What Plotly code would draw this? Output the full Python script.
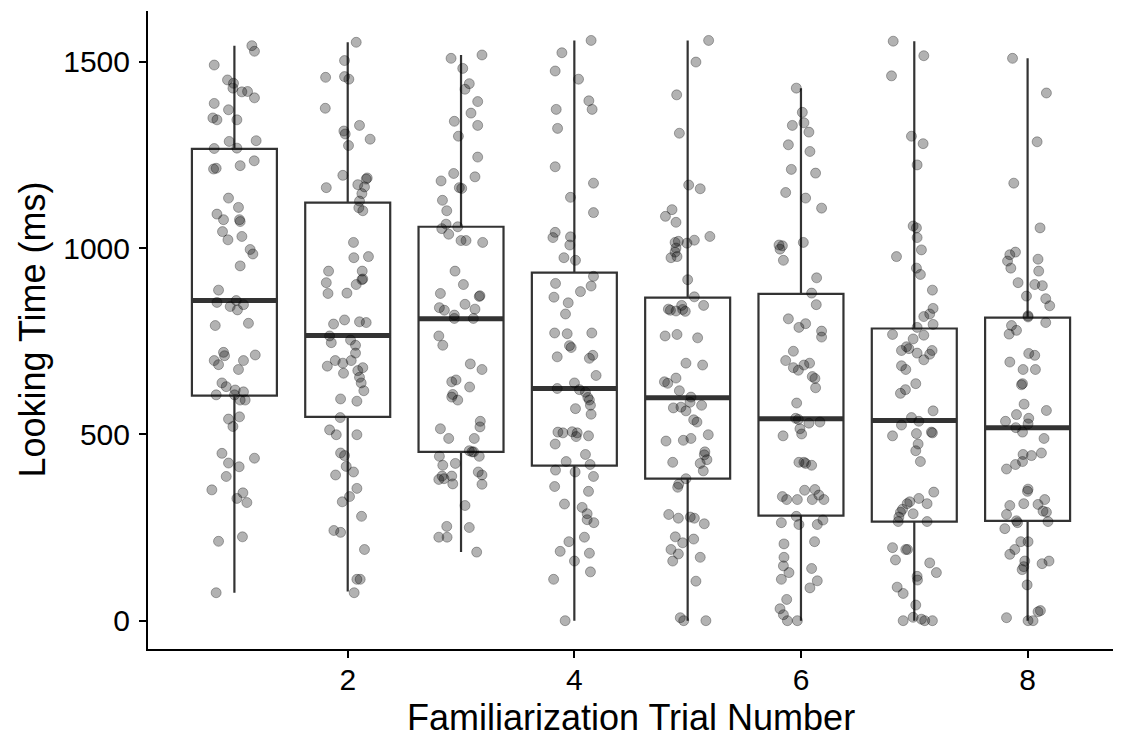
import plotly.graph_objects as go

# ---------------- data ----------------
trials = [1, 2, 3, 4, 5, 6, 7, 8]
q1 = [604, 547, 453, 416, 381, 282, 266, 268]
median = [859, 765, 810, 623, 598, 542, 537, 518]
q3 = [1266, 1122, 1057, 934, 867, 877, 784, 813]
lower_whisker = [75, 78, 184, 0, 0, 0, 0, 0]
upper_whisker = [1543, 1552, 1518, 1557, 1557, 1429, 1555, 1509]

x_ticks = [2, 4, 6, 8]
y_ticks = [0, 500, 1000, 1500]

# jitter offsets (horizontal) and looking times (ms) for each trial
t1_jit = [0.154,0.177,-0.178,-0.061,-0.008,-0.013,0.066,0.116,0.177,-0.178,-0.052,-0.190,-0.154,0.022,-0.046,0.192,-0.178,0.022,-0.184,-0.161,0.051,0.175,-0.052,0.036,-0.154,-0.096,0.045,0.051,-0.105,-0.057,0.066,0.139,0.163,0.051,-0.140,-0.154,-0.037,0.016,0.080,0.027,-0.169,0.124,-0.096,-0.087,-0.178,-0.140,0.080,0.184,0.036,-0.110,-0.072,0.007,0.080,-0.161,0.001,0.051,0.095,-0.052,0.045,-0.013,-0.110,-0.052,0.042,0.177,-0.072,-0.199,0.075,0.022,0.110,-0.140,0.071,-0.161]
t1_ms = [1543,1528,1491,1451,1442,1429,1419,1420,1403,1388,1371,1349,1344,1344,1286,1288,1267,1268,1212,1214,1221,1234,1134,1109,1091,1076,1076,1071,1044,1022,1031,996,984,952,887,854,843,859,848,834,792,798,720,711,698,687,698,713,674,638,628,619,614,606,606,592,592,541,547,521,449,423,413,436,387,351,343,328,317,213,225,75]

t2_jit = [0.075,-0.028,-0.195,-0.028,0.010,-0.198,0.104,-0.034,-0.022,0.198,0.007,-0.043,-0.189,0.172,0.163,0.089,0.148,0.125,0.104,0.098,0.133,0.051,0.054,0.183,-0.169,0.128,-0.189,-0.174,-0.007,0.075,0.125,0.133,-0.125,-0.028,0.104,0.163,-0.160,-0.145,0.025,0.069,0.069,0.031,-0.110,-0.180,-0.043,-0.037,0.089,0.133,0.104,0.119,0.142,-0.063,0.081,-0.066,-0.160,-0.101,0.081,-0.063,-0.028,-0.013,0.051,-0.107,0.081,0.016,-0.048,0.122,-0.122,-0.063,0.148,0.081,0.110,0.057]
t2_ms = [1552,1503,1458,1460,1453,1375,1329,1314,1306,1292,1275,1195,1162,1188,1185,1170,1164,1146,1126,1108,1100,1015,974,977,938,938,907,878,879,902,915,917,796,807,802,800,764,746,753,739,718,698,698,683,691,664,671,679,653,638,617,595,589,545,512,499,499,450,443,414,399,391,355,333,319,280,242,237,191,111,111,75]

t3_jit = [-0.088,0.185,0.015,0.073,0.035,0.147,0.088,0.147,-0.059,-0.023,0.147,-0.065,0.123,-0.176,-0.015,0.006,-0.164,-0.126,-0.132,-0.170,-0.109,-0.029,0.000,0.044,0.191,-0.053,0.021,-0.182,0.167,0.161,-0.191,-0.147,0.035,0.123,-0.059,-0.059,0.109,-0.196,-0.161,0.082,0.185,-0.082,-0.044,0.076,-0.073,-0.082,-0.029,-0.182,-0.109,0.117,0.170,0.167,0.073,0.097,0.111,-0.191,0.161,-0.161,-0.050,0.152,-0.196,-0.082,-0.167,-0.150,-0.073,0.185,0.185,0.035,-0.126,0.073,-0.196,-0.123,0.138]
t3_ms = [1509,1518,1482,1441,1426,1393,1362,1329,1340,1300,1244,1200,1191,1180,1162,1160,1128,1100,1064,1052,1037,1057,1020,1020,1015,938,902,878,872,870,840,833,849,836,820,811,811,764,739,689,674,641,646,627,607,600,592,515,489,489,535,520,456,453,453,441,441,417,422,399,379,388,388,381,367,391,366,309,253,250,224,224,184]

t4_jit = [0.148,-0.110,-0.169,0.037,0.128,0.157,-0.160,-0.148,-0.169,0.169,-0.034,0.169,-0.169,-0.189,-0.034,-0.040,-0.092,0.010,0.169,0.148,0.054,-0.166,-0.180,-0.054,-0.078,-0.174,-0.063,0.154,-0.043,-0.028,-0.151,0.163,0.133,0.192,-0.151,0.001,0.045,0.098,0.119,0.133,0.142,0.010,0.148,-0.145,-0.101,-0.019,0.025,0.016,0.125,-0.169,0.098,-0.072,0.139,-0.166,0.007,0.169,-0.174,0.125,-0.087,0.069,0.113,0.113,0.172,0.089,-0.048,-0.125,0.133,0.001,0.142,-0.183,-0.081]
t4_ms = [1557,1524,1475,1453,1395,1372,1372,1321,1218,1174,1136,1095,1042,1028,1030,1008,974,967,924,898,883,905,868,853,823,772,770,772,738,733,708,712,704,658,623,638,620,613,599,592,578,569,554,506,504,507,504,494,496,474,446,427,419,404,399,387,360,347,313,304,287,271,263,224,212,186,181,160,131,111,0]

t5_jit = [0.185,0.073,-0.097,-0.073,0.009,0.111,-0.138,-0.196,-0.103,-0.111,-0.082,-0.006,0.059,0.196,-0.103,-0.111,-0.147,-0.094,0.000,0.059,-0.053,-0.170,-0.152,-0.103,-0.044,-0.021,0.141,-0.199,-0.094,0.088,-0.015,0.132,-0.205,-0.176,-0.103,-0.073,0.029,-0.126,-0.059,-0.015,0.021,0.123,0.053,0.082,-0.191,-0.038,0.029,0.182,-0.132,0.152,0.147,0.170,0.111,0.138,-0.015,-0.079,-0.088,-0.167,-0.082,0.023,0.059,0.147,-0.109,-0.044,0.053,-0.147,-0.082,-0.132,0.111,0.073,-0.065,-0.035,0.161]
t5_ms = [1557,1499,1411,1308,1169,1159,1103,1085,1069,1015,1018,1013,1021,1031,1000,989,974,977,915,869,846,836,833,831,835,830,846,764,768,759,691,686,641,637,651,617,600,571,573,563,586,578,539,533,482,484,489,499,425,453,445,432,422,402,381,366,358,285,275,278,275,260,225,209,219,191,179,160,170,106,8,0,0]

t6_jit = [-0.041,0.012,-0.076,0.026,0.070,-0.111,0.079,-0.085,0.129,-0.135,0.041,0.182,0.021,-0.194,-0.164,-0.185,-0.155,0.138,0.094,0.135,-0.111,-0.018,0.041,0.182,0.182,-0.067,-0.135,-0.067,-0.023,0.026,0.076,0.100,0.123,0.129,-0.038,-0.047,-0.023,0.070,0.167,-0.009,0.006,-0.158,-0.018,0.026,0.041,0.094,0.032,0.123,-0.164,-0.126,-0.032,0.100,0.158,0.202,-0.041,-0.018,-0.173,0.144,0.194,0.120,-0.150,-0.150,-0.155,-0.106,-0.173,0.094,0.144,0.079,-0.126,-0.185,-0.155,-0.120,-0.032]
t6_ms = [1429,1364,1329,1336,1311,1277,1259,1211,1201,1149,1134,1107,1015,1008,1006,997,967,920,879,848,810,787,797,777,761,723,698,679,672,686,691,655,650,625,584,543,540,530,533,515,501,496,425,425,422,417,350,352,333,325,325,325,337,325,280,258,263,258,270,212,206,170,147,129,111,140,107,88,57,32,16,0,0]

t7_jit = [-0.186,0.084,-0.201,-0.025,0.078,0.025,-0.010,0.019,0.025,0.063,-0.157,0.019,0.054,0.160,0.166,0.136,0.084,0.166,0.025,-0.192,0.084,-0.010,-0.069,-0.113,-0.048,0.025,0.157,0.136,0.084,-0.113,-0.075,0.013,-0.078,-0.122,0.166,-0.025,0.040,-0.113,-0.192,0.019,0.151,0.160,0.034,0.013,0.054,0.172,0.040,0.113,-0.040,-0.063,-0.104,-0.122,-0.010,-0.136,-0.142,0.113,-0.192,-0.075,-0.060,-0.166,0.136,0.195,0.025,0.028,-0.151,-0.098,0.013,-0.098,-0.010,0.063,0.092,0.160]
t7_ms = [1555,1516,1462,1300,1280,1223,1059,1054,1028,995,977,946,929,887,838,823,816,795,787,768,766,756,735,725,730,718,725,715,700,684,674,636,620,610,563,545,535,525,496,502,506,504,474,456,427,345,328,314,319,314,299,291,287,278,266,266,196,191,191,163,155,129,119,109,90,73,42,0,9,4,0,0]

t8_jit = [-0.133,0.166,0.084,-0.122,0.110,-0.107,-0.157,-0.177,-0.148,0.092,0.098,-0.084,0.063,0.130,-0.010,0.160,0.195,0.004,0.004,-0.142,-0.098,-0.163,0.160,0.010,0.063,-0.157,-0.040,0.069,-0.054,-0.045,-0.031,0.166,-0.098,-0.195,0.010,0.004,-0.104,-0.045,0.145,-0.040,0.034,0.122,-0.107,-0.186,-0.045,0.004,-0.001,-0.157,-0.034,0.092,0.151,0.136,-0.186,0.166,0.180,-0.098,-0.089,-0.201,-0.060,0.004,-0.113,-0.157,-0.025,-0.034,-0.048,0.128,0.189,-0.004,-0.186,0.004,0.048,0.092,0.113]
t8_ms = [1509,1416,1285,1174,1054,989,982,965,946,970,938,907,902,899,871,864,845,818,815,792,779,769,800,717,712,694,674,674,633,636,581,564,553,535,543,528,518,506,489,446,443,450,419,407,427,353,347,309,314,312,325,294,285,291,266,268,263,247,212,212,191,178,160,145,137,153,160,96,8,0,0,24,27]

jitters = [t1_jit, t2_jit, t3_jit, t4_jit, t5_jit, t6_jit, t7_jit, t8_jit]
times = [t1_ms, t2_ms, t3_ms, t4_ms, t5_ms, t6_ms, t7_ms, t8_ms]

# ---------------- style ----------------
FONT = "Liberation Sans, Arial, Helvetica, sans-serif"
BOX_COLOR = "#333333"
BOX_WIDTH = 0.75
TICK_SIZE = 30
TITLE_SIZE = 36

fig = go.Figure()

fig.add_trace(go.Box(
    x=trials, q1=q1, median=median, q3=q3,
    lowerfence=lower_whisker, upperfence=upper_whisker,
    width=BOX_WIDTH, whiskerwidth=0,
    line=dict(color=BOX_COLOR, width=2.2),
    fillcolor="rgba(255,255,255,0)",
    boxpoints=False, hoverinfo="skip", showlegend=False,
))

# thick median bars (ggplot fatten)
mx, my = [], []
for t, m in zip(trials, median):
    mx += [t - BOX_WIDTH / 2, t + BOX_WIDTH / 2, None]
    my += [m, m, None]
fig.add_trace(go.Scatter(
    x=mx, y=my, mode="lines",
    line=dict(color=BOX_COLOR, width=5),
    hoverinfo="skip", showlegend=False,
))

# jittered points
px, py = [], []
for t, jit, ms in zip(trials, jitters, times):
    for j, v in zip(jit, ms):
        px.append(t + j)
        py.append(v)
fig.add_trace(go.Scatter(
    x=px, y=py, mode="markers",
    marker=dict(size=10, color="rgba(0,0,0,0.3)",
                line=dict(color="rgba(0,0,0,0.3)", width=1)),
    hoverinfo="skip", showlegend=False,
))

# page body has an 8px margin, so the figure is 8px smaller and shifted
MARGIN_L, MARGIN_R, MARGIN_T, MARGIN_B = 140, 7, 3, 89
FIG_W, FIG_H = 1113, 730
plot_w = FIG_W - MARGIN_L - MARGIN_R
plot_h = FIG_H - MARGIN_T - MARGIN_B

fig.update_layout(
    width=FIG_W, height=FIG_H,
    margin=dict(l=MARGIN_L, r=MARGIN_R, t=MARGIN_T, b=MARGIN_B),
    paper_bgcolor="white", plot_bgcolor="white",
    font=dict(family=FONT, color="black"),
    showlegend=False,
    xaxis=dict(
        range=[0.2375, 8.7625], tickvals=x_ticks,
        showgrid=False, zeroline=False,
        showline=True, linecolor="black", linewidth=2,
        ticks="outside", ticklen=7, tickwidth=2, tickcolor="black",
        ticklabelstandoff=-4,
        tickfont=dict(size=TICK_SIZE, family=FONT, color="black"),
    ),
    yaxis=dict(
        range=[-76, 1636], tickvals=y_ticks,
        showgrid=False, zeroline=False,
        showline=True, linecolor="black", linewidth=2,
        ticks="outside", ticklen=7, tickwidth=2, tickcolor="black",
        ticklabelstandoff=3,
        tickfont=dict(size=TICK_SIZE, family=FONT, color="black"),
    ),
    annotations=[
        dict(text="Familiarization Trial Number", xref="paper", yref="paper",
             x=0.5, y=-0.1072, xanchor="center", yanchor="middle",
             showarrow=False, font=dict(size=TITLE_SIZE, family=FONT, color="black")),
        dict(text="Looking Time (ms)", xref="paper", yref="paper",
             x=-(MARGIN_L - 1) / plot_w, y=0.5, xanchor="left", yanchor="middle",
             textangle=-90,
             showarrow=False, font=dict(size=TITLE_SIZE, family=FONT, color="black")),
    ],
)

fig.write_html("out.html", config={"displayModeBar": False})
